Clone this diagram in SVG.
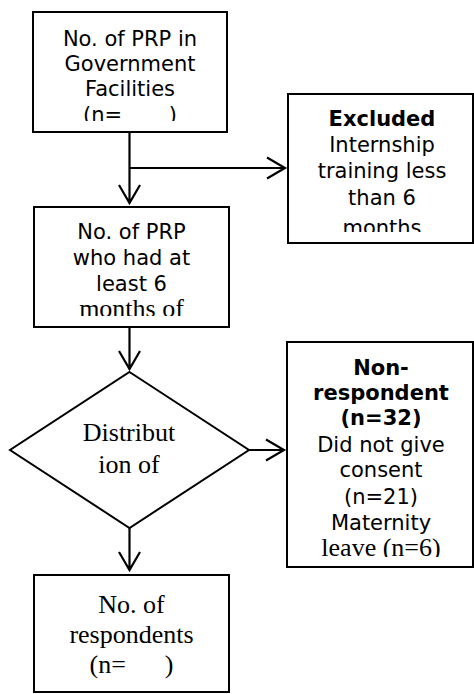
<svg xmlns="http://www.w3.org/2000/svg" width="474" height="694" viewBox="0 0 474 694">
<style>
.box{fill:#fff;stroke:#000;stroke-width:2}
.ln{fill:none;stroke:#000;stroke-width:2.2}
.s{font-family:"DejaVu Sans","Verdana",sans-serif;font-size:21px;text-anchor:middle;fill:#000}
.b{font-weight:bold}
.r{font-family:"Liberation Serif","Times New Roman",serif;font-size:26px;text-anchor:middle;fill:#000}
</style>
<defs>
<clipPath id="c1"><rect x="33" y="12" width="194" height="109"/></clipPath>
<clipPath id="c2"><rect x="34" y="207" width="195" height="109"/></clipPath>
<clipPath id="c3"><rect x="288" y="94" width="186" height="138"/></clipPath>
<clipPath id="c4"><rect x="287" y="342" width="187" height="215"/></clipPath>
</defs>
<rect width="474" height="694" fill="#fff"/>
<g id="connectors">
<path class="ln" d="M129.5 132V203M119 185L129.5 203L140 185"/>
<path class="ln" d="M129.5 168H285M267 157.5L285 168L267 178.5"/>
<path class="ln" d="M129.5 327V369M119 351L129.5 369L140 351"/>
<path class="ln" d="M249 450H284M266 439.5L284 450L266 460.5"/>
<path class="ln" d="M129.5 528V570M119 552L129.5 570L140 552"/>
</g>
<g id="n1">
<rect class="box" x="33" y="12" width="194" height="120"/>
<g clip-path="url(#c1)">
<text class="s" x="130" y="46">No. of PRP in</text>
<text class="s" x="130" y="71">Government</text>
<text class="s" x="130" y="96">Facilities</text>
<text class="s" x="130" y="122" xml:space="preserve">(n=       )</text>
</g>
</g>
<g id="n2">
<rect class="box" x="34" y="207" width="195" height="120"/>
<g clip-path="url(#c2)">
<text class="s" x="131.5" y="239">No. of PRP</text>
<text class="s" x="131.5" y="265">who had at</text>
<text class="s" x="131.5" y="291">least 6</text>
<text class="r" x="131.5" y="317">months of</text>
</g>
</g>
<g id="n3">
<rect class="box" x="288" y="94" width="185" height="149"/>
<g clip-path="url(#c3)">
<text class="s b" x="382" y="126">Excluded</text>
<text class="s" x="382" y="152">Internship</text>
<text class="s" x="382" y="178">training less</text>
<text class="s" x="382" y="205">than 6</text>
<text class="s" x="382" y="235">months</text>
</g>
</g>
<g id="n4">
<polygon class="box" points="129.5,372 249,450 129.5,528 10,450"/>
<text class="r" x="129" y="441">Distribut</text>
<text class="r" x="129" y="473">ion of</text>
</g>
<g id="n5">
<rect class="box" x="287" y="342" width="186" height="225"/>
<g clip-path="url(#c4)">
<text class="s b" x="381" y="375">Non-</text>
<text class="s b" x="381" y="400">respondent</text>
<text class="s b" x="381" y="425">(n=32)</text>
<text class="s" x="381" y="452">Did not give</text>
<text class="s" x="381" y="477">consent</text>
<text class="s" x="381" y="504">(n=21)</text>
<text class="s" x="381" y="530">Maternity</text>
<text class="r" x="381" y="556">leave (n=6)</text>
</g>
</g>
<g id="n6">
<rect class="box" x="34" y="575" width="195" height="117"/>
<text class="r" x="131.5" y="613">No. of</text>
<text class="r" x="131.5" y="643">respondents</text>
<text class="r" x="131.5" y="673" xml:space="preserve">(n=      )</text>
</g>
</svg>
